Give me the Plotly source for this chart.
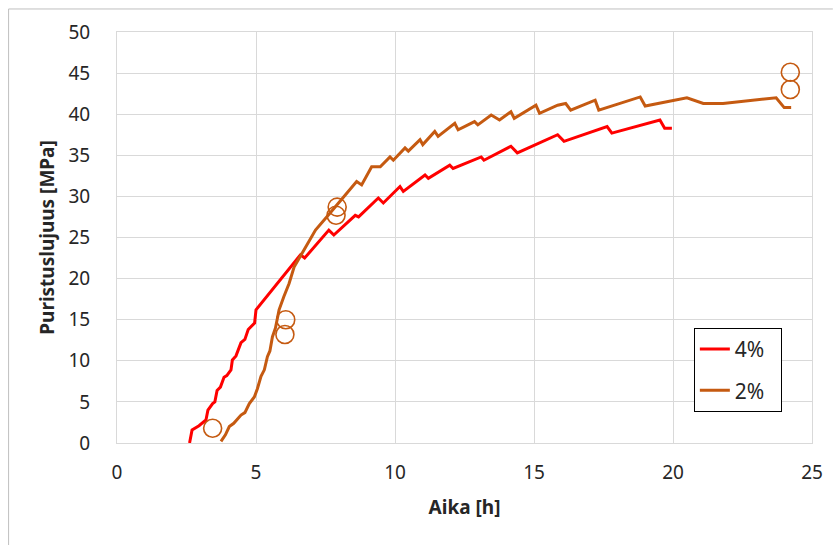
import plotly.graph_objects as go

# 4% series
red_x = [2.61, 2.70, 2.95, 3.20, 3.27, 3.44, 3.52, 3.60, 3.72, 3.85, 3.95, 4.10, 4.15, 4.28,
         4.46, 4.60, 4.72, 4.82, 4.95, 5.00, 6.43, 6.60, 6.75, 7.62, 7.80, 8.57, 8.69, 9.40,
         9.58, 10.18, 10.30, 11.08, 11.20, 11.97, 12.09, 13.10, 13.20, 14.17, 14.40, 15.85,
         16.08, 16.92, 17.63, 17.80, 19.53, 19.70, 19.96]
red_y = [0.0, 1.6, 2.1, 2.8, 4.0, 4.8, 5.0, 6.4, 6.8, 8.0, 8.2, 8.9, 10.1, 10.6,
         12.2, 12.6, 13.8, 14.2, 14.6, 16.2, 22.1, 22.9, 22.5, 25.9, 25.3, 27.7, 27.5, 29.8,
         29.2, 31.2, 30.6, 32.6, 32.2, 33.8, 33.4, 34.8, 34.4, 36.1, 35.3, 37.5,
         36.7, 37.7, 38.5, 37.7, 39.3, 38.3, 38.3]

# 2% series
orange_x = [3.74, 3.90, 4.04, 4.20, 4.46, 4.60, 4.76, 4.94, 5.05, 5.18, 5.30, 5.41, 5.50,
            5.59, 5.70, 5.83, 6.00, 6.19, 6.37, 6.66, 7.14, 7.62, 7.98, 8.62, 8.80, 9.16,
            9.47, 9.82, 9.94, 10.36, 10.48, 10.90, 11.00, 11.43, 11.55, 12.15, 12.27, 12.86,
            12.98, 13.46, 13.76, 14.17, 14.29, 15.07, 15.20, 15.85, 16.14, 16.32, 17.20,
            17.33, 18.82, 19.00, 20.50, 21.09, 21.80, 23.71, 24.00, 24.25]
orange_y = [0.2, 1.0, 2.0, 2.4, 3.4, 3.7, 4.8, 5.6, 6.6, 8.1, 8.9, 10.5, 11.2,
            12.9, 14.0, 16.2, 17.8, 19.4, 21.4, 23.1, 25.9, 27.8, 29.2, 31.8, 31.4, 33.6,
            33.6, 34.8, 34.4, 35.9, 35.5, 36.9, 36.3, 37.9, 37.3, 38.9, 38.1, 39.1,
            38.7, 39.9, 39.3, 40.3, 39.5, 41.1, 40.1, 41.1, 41.3, 40.5, 41.7,
            40.5, 42.1, 41.0, 42.0, 41.3, 41.3, 42.0, 40.8, 40.8]

# measured points (open circles)
meas_x = [3.44, 6.07, 6.04, 7.92, 7.88, 24.22, 24.22]
meas_y = [1.8, 15.0, 13.2, 28.7, 27.7, 45.1, 43.0]

series_names = ["4%", "2%"]

RED = "#FF0000"
ORANGE = "#C55A11"
FONT = "Noto Sans"

fig = go.Figure()
fig.add_trace(go.Scatter(x=red_x, y=red_y, mode="lines", name=series_names[0] + "\u00a0\u00a0",
                         line=dict(color=RED, width=3), legendgroup="a"))
fig.add_trace(go.Scatter(x=orange_x, y=orange_y, mode="lines", name=series_names[1] + "\u00a0\u00a0",
                         line=dict(color=ORANGE, width=3), legendgroup="b"))
fig.add_trace(go.Scatter(x=meas_x, y=meas_y, mode="markers", showlegend=False,
                         marker=dict(symbol="circle-open", size=18,
                                     line=dict(color=ORANGE, width=1.6), color=ORANGE)))

grid = "#D9D9D9"
fig.update_layout(
    width=835, height=545,
    margin=dict(l=117, r=19, t=32, b=102),
    paper_bgcolor="white", plot_bgcolor="white",
    font=dict(family=FONT, size=19, color="#262626"),
    xaxis=dict(range=[0, 25], dtick=5, tick0=0, showgrid=True, gridcolor=grid, gridwidth=1,
               showline=True, linecolor=grid, mirror=True, zeroline=False,
               ticklabelstandoff=12,
               title=dict(text="<b>Aika [h]</b>", font=dict(size=19, color="#262626"), standoff=16)),
    yaxis=dict(range=[0, 50], dtick=5, tick0=0, showgrid=True, gridcolor=grid, gridwidth=1,
               showline=True, linecolor=grid, mirror=True, zeroline=False,
               ticklabelstandoff=22,
               title=dict(text="<b>Puristuslujuus [MPa]</b>", font=dict(size=19, color="#262626"), standoff=8)),
    legend=dict(x=0.83, y=0.28, xanchor="left", yanchor="top",
                bordercolor="black", borderwidth=1, bgcolor="white",
                font=dict(size=21, color="#262626"), tracegroupgap=11,
                traceorder="grouped"),
    shapes=[
        dict(type="line", xref="paper", yref="paper", x0=-0.156, x1=1.03, y0=1.056, y1=1.056,
             line=dict(color="#BFBFBF", width=1)),
        dict(type="line", xref="paper", yref="paper", x0=-0.156, x1=-0.156, y0=1.056, y1=-0.26,
             line=dict(color="#BFBFBF", width=1)),
    ],
)

fig.write_html("out.html")
